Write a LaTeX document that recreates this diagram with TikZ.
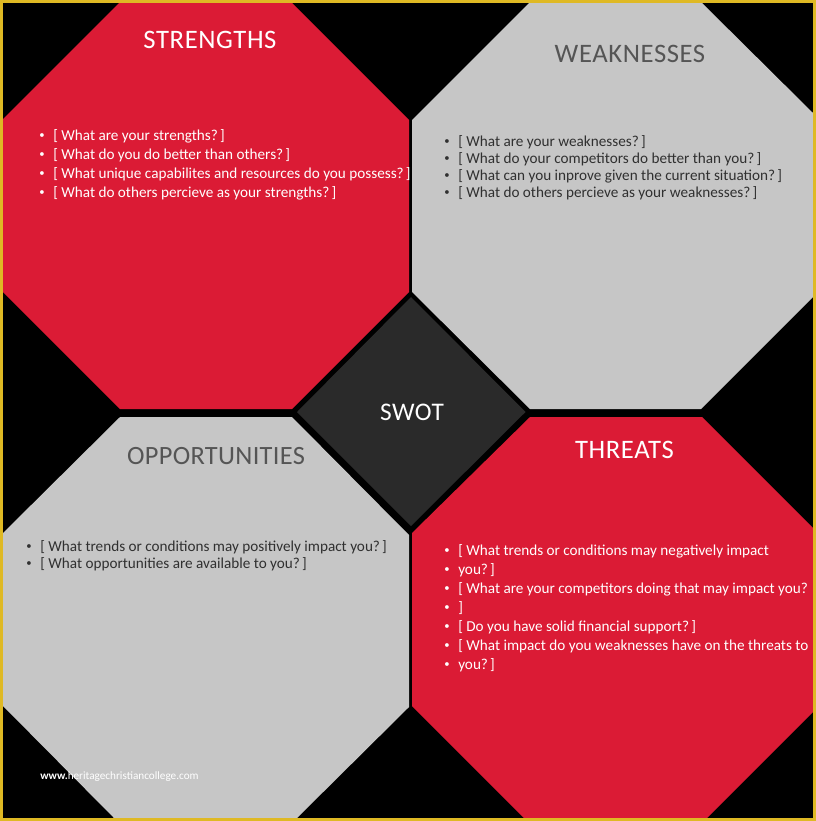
\documentclass[tikz,border=0pt]{standalone}
\usepackage{fontspec}
\setmainfont{Carlito}
\newfontfamily\headfont[LetterSpace=2.2]{Carlito}
\newfontfamily\headfontb[LetterSpace=1.2]{Carlito}
\definecolor{swred}{HTML}{DB1B35}
\definecolor{swgrey}{HTML}{C6C6C6}
\definecolor{swdark}{HTML}{2A2A2A}
\definecolor{swgold}{HTML}{DFB924}
\definecolor{swhead}{HTML}{555555}
\definecolor{swtext}{HTML}{303030}
\tikzset{
  px/.style={x=0.75pt,y=-0.75pt},
  redoct/.style={fill=swred,draw=none},
  greyoct/.style={fill=swgrey,draw=none},
  heading/.style={inner sep=0pt,anchor=base,font=\headfont\fontsize{20}{20}\selectfont},
  bodyline/.style={inner sep=0pt,anchor=base west,font=\fontsize{11.4}{11.4}\selectfont},
  bullet/.style={inner sep=0pt,anchor=base,font=\fontsize{8}{8}\selectfont},
}
\newcommand{\qe}{?\kern-0.9pt\ ]}
\newcommand{\bl}[5]{% x y colour name text
  \node[bullet,text=#3] at (#1-11,#2-1.3) {•};
  \node[bodyline,text=#3] (#4) at (#1,#2) {#5};
}
\begin{document}
\begin{tikzpicture}[px]
\useasboundingbox (0,0) rectangle (816,821);
\fill[black] (0,0) rectangle (816,821);
% octagons
\path[redoct] (119,3) -- (292,3) -- (409,120) -- (409,292) -- (292,409) -- (120,409) -- (3,292) -- (3,119) -- cycle;
\path[greyoct] (529,3) -- (702,3) -- (813,113) -- (813,297) -- (701,409) -- (530,409) -- (412,292) -- (412,120) -- cycle;
\path[greyoct] (120,417) -- (292,417) -- (409,535) -- (409,707) -- (297,818) -- (114,818) -- (3,706) -- (3,533) -- cycle;
\path[redoct] (530,417) -- (702,417) -- (813,528) -- (813,712) -- (707,818) -- (524,818) -- (412,706) -- (412,533) -- cycle;
% centre
\path[fill=swdark] (411,297) -- (525.5,412) -- (411,526) -- (297,412) -- cycle;
% border
\draw[swgold,line width=2.25pt] (1.5,1.5) rectangle (814.5,819.5);
% headings
\node[heading,text=white] (s) at (210,48) {STRENGTHS};
\node[heading,text=swhead] (w) at (630,62) {WEAKNESSES};
\node[heading,text=swhead,font=\headfontb\fontsize{19.8}{19.8}\selectfont] (o) at (216,464) {OPPORTUNITIES};
\node[heading,text=white] (t) at (624.5,458) {THREATS};
\node[heading,text=white,font=\headfont\fontsize{19}{19}\selectfont] (c) at (412,420) {SWOT};
% strengths
\bl{53}{140}{white}{s1}{[ What are your strengths\qe}
\bl{53}{159}{white}{s2}{[ What do you do better than others\qe}
\bl{53}{178}{white}{s3}{[ What unique capabilites and resources do you possess\qe}
\bl{53}{197}{white}{s4}{[ What do others percieve as your strengths\qe}
% weaknesses
\bl{458}{146}{swtext}{w1}{[ What are your weaknesses\qe}
\bl{458}{163}{swtext}{w2}{[ What do your competitors do better than you\qe}
\bl{458}{180}{swtext}{w3}{[ What can you inprove given the current situation\qe}
\bl{458}{197}{swtext}{w4}{[ What do others percieve as your weaknesses\qe}
% opportunities
\bl{40}{551}{swtext}{o1}{[ What trends or conditions may positively impact you\qe}
\bl{40}{568}{swtext}{o2}{[ What opportunities are available to you\qe}
% threats
\bl{458}{555}{white}{t1}{[ What trends or conditions may negatively impact}
\bl{458}{574}{white}{t1b}{you\qe}
\bl{458}{593}{white}{t2}{[ What are your competitors doing that may impact you?}
\bl{458}{612}{white}{t2b}{]}
\bl{458}{631}{white}{t3}{[ Do you have solid financial support\qe}
\bl{458}{650}{white}{t4}{[ What impact do you weaknesses have on the threats to}
\bl{458}{669}{white}{t4b}{you\qe}
% watermark
\node[inner sep=0pt,anchor=base west,text=white,font=\fontsize{8.4}{8.4}\selectfont] (wm) at (40,779) {\textbf{www.}heritagechristiancollege.com};
\end{tikzpicture}
\end{document}
